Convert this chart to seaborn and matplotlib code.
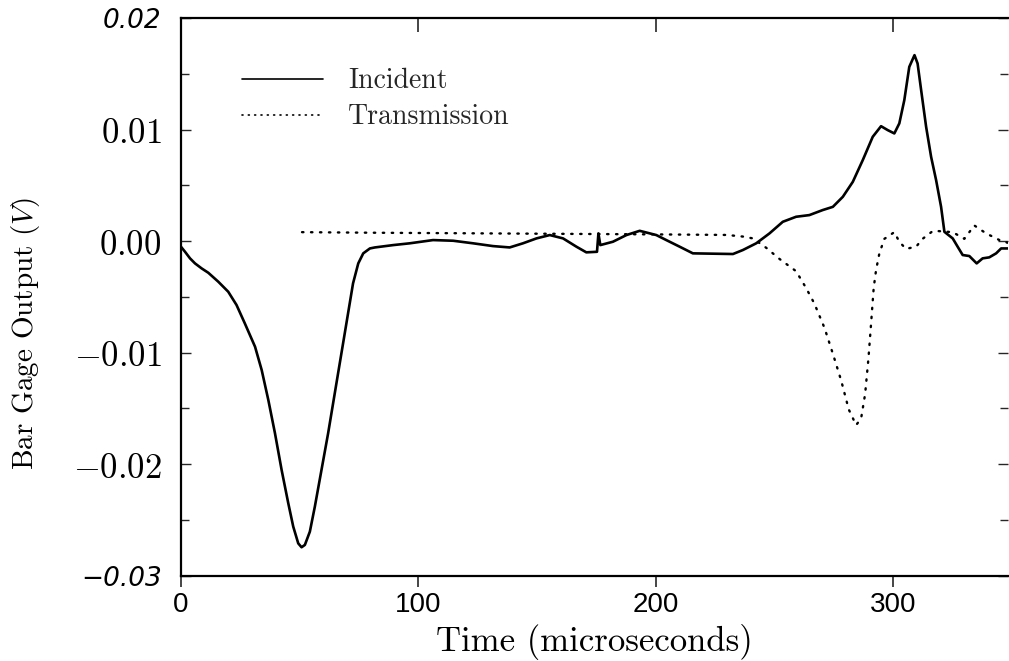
import numpy as np
import pandas as pd
import matplotlib
matplotlib.use("Agg")
import matplotlib.pyplot as plt
import seaborn as sns
from matplotlib.ticker import MultipleLocator

# ---- data ----
t_inc = [0, 1.7, 3.8, 5.9, 8.7, 11.5, 15.7, 19.9, 23.4, 26.9,
         31.2, 34.0, 36.8, 39.6, 42.4, 45.2, 47.3, 49.4, 50.8, 52.2,
         54.3, 56.4, 59.2, 62.0, 64.1, 66.2, 68.3, 70.4, 72.5, 74.7,
         76.8, 79.6, 81.7, 89.4, 96.4, 106.2, 114.7, 123.1, 131.5, 138.5,
         144.1, 149.8, 155.4, 161.0, 166.6, 170.8, 175.3, 175.9, 176.7, 182.0,
         187.7, 193.3, 200.3, 204.5, 210.1, 215.7, 232.6, 236.8, 242.4, 248.0,
         253.6, 259.2, 264.8, 270.4, 274.7, 278.9, 283.1, 287.3, 291.5, 295.0,
         297.8, 300.6, 302.7, 304.8, 306.9, 309.1, 310.4, 311.9, 314.0, 316.1,
         318.2, 320.3, 321.7, 325.2, 327.3, 329.4, 332.2, 335.3, 337.8, 340.6,
         343.5, 345.6, 348.6]
v_inc = [-0.00051, -0.00096, -0.00155, -0.0020, -0.00245, -0.00284, -0.00364, -0.00454, -0.00573, -0.00738,
         -0.00947, -0.01156, -0.01425, -0.01723, -0.02052, -0.0235, -0.0256, -0.0271, -0.02745, -0.02724,
         -0.02605, -0.02381, -0.02052, -0.01723, -0.01454, -0.01185, -0.00917, -0.00648, -0.00379, -0.0020,
         -0.0011, -0.00066, -0.00057, -0.00036, -0.0002, 0.00009, 0.00003, -0.0002, -0.00045, -0.00057,
         -0.0002, 0.00024, 0.00054, 0.00024, -0.0005, -0.00101, -0.00096, 0.00069, -0.00036, -0.00006,
         0.00054, 0.00092, 0.00054, 0.00009, -0.0005, -0.0011, -0.00116, -0.0008, -0.0002, 0.00069,
         0.00173, 0.00218, 0.00233, 0.00278, 0.00307, 0.00397, 0.00531, 0.00726, 0.00935, 0.0103,
         0.00995, 0.00965, 0.01055, 0.01263, 0.01562, 0.01667, 0.01592, 0.01353, 0.01024, 0.00755,
         0.00547, 0.00307, 0.00083, 0.00024, -0.00051, -0.00125, -0.00134, -0.002, -0.00155, -0.00146,
         -0.0011, -0.00066, -0.00066]

t_tr = [51, 80, 120, 160, 200, 230, 237, 241, 246.6, 252.2,
        259.2, 263.4, 266.9, 271.2, 274.7, 278.2, 281.4, 284.5, 286.6, 288.3,
        289.7, 290.8, 291.9, 292.9, 294.3, 296.4, 300.6, 302.7, 305.5, 309.8,
        312.5, 316.8, 318.9, 325.2, 330.1, 334.3, 339.2, 344.8, 348.3]
v_tr = [0.0008, 0.00075, 0.0007, 0.00065, 0.0006, 0.00055, 0.0004, 0.00024, -0.0006, -0.0016,
        -0.0027, -0.0042, -0.0056, -0.0078, -0.0101, -0.0125, -0.0151, -0.0165, -0.0159, -0.0137,
        -0.0105, -0.0074, -0.0042, -0.0026, -0.0011, 0.0002, 0.0008, -0.00006, -0.0007, -0.0005,
        0.0002, 0.0009, 0.0009, 0.0008, 0.0002, 0.0014, 0.0007, 0.0001, -0.00015]

series_names = ["Incident", "Transmission"]
x_ticks = [0, 100, 200, 300]
x_tick_labels = ["0", "100", "200", "300"]
y_ticks = [-0.03, -0.02, -0.01, 0.0, 0.01, 0.02]
y_tick_labels = ["\u22120.03", "$-0.02$", "$-0.01$", "$0.00$", "$0.01$", "0.02"]

# ---- style ----
sns.set_style("ticks")
plt.rcParams["mathtext.fontset"] = "cm"
plt.rcParams["axes.unicode_minus"] = True

fig = plt.figure(figsize=(10.09, 6.61), dpi=100)
ax = fig.add_axes([181 / 1009, 1 - 575.7 / 661, (1008 - 181) / 1009, (575.7 - 18) / 661])

df_inc = pd.DataFrame({"t": t_inc, "v": v_inc})
df_tr = pd.DataFrame({"t": t_tr, "v": v_tr})

sns.lineplot(data=df_inc, x="t", y="v", ax=ax, color="black", lw=1.9,
             sort=False, estimator=None, label=series_names[0])
sns.lineplot(data=df_tr, x="t", y="v", ax=ax, color="black", lw=1.7,
             sort=False, estimator=None, label=series_names[1],
             linestyle=(0, (0.6, 3.2)), dash_capstyle="round")

ax.set_xlim(0, 348.5)
ax.set_ylim(-0.03, 0.02)

# spines
for s in ["left", "bottom", "top"]:
    ax.spines[s].set_linewidth(1.6)
    ax.spines[s].set_color("black")
ax.spines["right"].set_visible(False)

# ticks
ax.set_xticks(x_ticks)
ax.set_xticklabels(x_tick_labels, fontsize=20, family="Liberation Sans")
ax.set_yticks(y_ticks)
ax.set_yticklabels(y_tick_labels, fontsize=25)
ax.yaxis.set_minor_locator(MultipleLocator(0.005))
ax.tick_params(axis="x", which="major", direction="out", length=8, width=1.2, top=False, pad=4)
ax.tick_params(axis="y", which="both", direction="in", length=7, width=1.0, right=True, pad=14)
ax.tick_params(axis="y", which="minor", length=6)
for lab in ax.get_xticklabels():
    lab.set_color("black")
yl = ax.get_yticklabels()
for i in (0, len(yl) - 1):
    yl[i].set_fontstyle("italic")
    yl[i].set_family("DejaVu Sans")
    yl[i].set_fontsize(19)
for lab in yl:
    lab.set_color("black")

# top ticks inward
sec = ax.secondary_xaxis("top")
sec.set_xticks(x_ticks)
sec.set_xticklabels([])
sec.tick_params(direction="in", length=10, width=1.2)
sec.spines["top"].set_visible(False)

ax.set_xlabel("Time (microseconds)", fontsize=25, family="cmr10", labelpad=4, color="black")
ax.set_ylabel("Bar Gage Output ($V$)", fontsize=21, family="cmr10", color="black")
ax.yaxis.set_label_coords(-0.168, 0.435)

leg = ax.legend(loc="upper left", bbox_to_anchor=(0.044, 0.955), frameon=False,
                handlelength=2.9, handletextpad=0.9, labelspacing=0.35,
                prop={"family": "cmr10", "size": 20})
for h in leg.get_lines():
    h.set_linewidth(1.2)

fig.savefig("out.png", dpi=100, facecolor="white")
